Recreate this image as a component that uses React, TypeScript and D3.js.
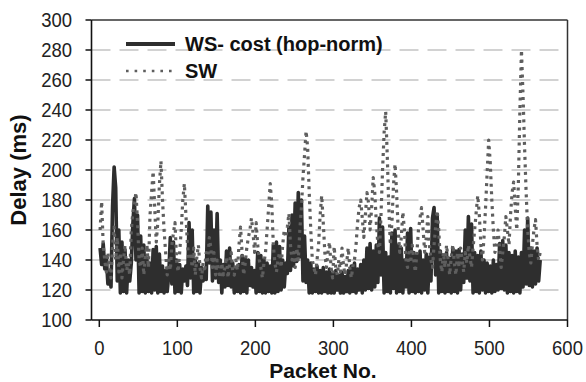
import React from 'react';
import * as d3 from 'd3';

// packets are sampled every 2nd packet: 1, 3, 5, ... 565
const firstPacket = 1;
const packetStep = 2;

const wsCost = [
  148, 137, 151, 134, 142, 124, 133, 122, 176, 202, 188, 126, 160, 118, 152, 119, 146, 118, 140, 126,
  138, 164, 181, 140, 170, 118, 156, 119, 150, 118, 141, 119, 138, 118, 147, 120, 149, 118, 144, 119,
  136, 118, 133, 119, 130, 155, 124, 152, 118, 140, 119, 137, 118, 134, 126, 136, 123, 165, 128, 160,
  118, 140, 119, 138, 118, 135, 126, 133, 127, 176, 138, 172, 126, 160, 128, 171, 125, 140, 118, 137,
  122, 146, 123, 148, 122, 138, 118, 135, 119, 137, 118, 143, 119, 141, 118, 140, 123, 135, 122, 133,
  118, 145, 119, 143, 118, 140, 118, 138, 119, 136, 118, 150, 118, 152, 119, 149, 120, 140, 122, 138,
  131, 162, 133, 170, 136, 178, 139, 185, 142, 180, 126, 156, 125, 140, 118, 138, 118, 134, 119, 136,
  118, 133, 118, 135, 119, 132, 118, 134, 118, 131, 118, 133, 120, 130, 118, 132, 118, 129, 119, 133,
  118, 136, 119, 138, 118, 134, 120, 137, 118, 140, 120, 148, 121, 151, 120, 146, 122, 150, 125, 168,
  130, 162, 118, 145, 119, 142, 118, 158, 121, 160, 118, 150, 119, 148, 118, 140, 122, 158, 118, 161,
  119, 145, 118, 143, 119, 146, 118, 140, 120, 144, 118, 142, 126, 168, 175, 130, 170, 118, 146, 119,
  143, 118, 145, 119, 141, 118, 148, 119, 146, 118, 147, 120, 144, 125, 160, 128, 169, 126, 164, 118,
  145, 119, 143, 118, 146, 120, 140, 118, 138, 119, 136, 118, 140, 119, 137, 120, 151, 121, 153, 120,
  150, 118, 145, 119, 143, 118, 146, 119, 142, 118, 145, 122, 160, 124, 168, 123, 148, 122, 146, 124,
  148, 126, 140,
];

const sw = [
  160, 179, 150, 140, 132, 145, 135, 128, 150, 162, 140, 155, 132, 145, 128, 140, 150, 133, 138, 130,
  160, 172, 178, 185, 165, 140, 135, 148, 130, 142, 150, 135, 170, 185, 199, 175, 152, 165, 190, 206,
  180, 160, 145, 130, 140, 133, 150, 158, 165, 140, 132, 145, 160, 180, 191, 170, 150, 140, 145, 135,
  148, 130, 142, 150, 135, 128, 138, 132, 145, 140, 155, 148, 135, 145, 130, 140, 132, 128, 138, 130,
  135, 142, 128, 138, 145, 132, 130, 140, 133, 150, 162, 145, 130, 138, 148, 155, 160, 168, 158, 145,
  165, 150, 140, 135, 128, 138, 145, 160, 175, 191, 178, 150, 138, 132, 140, 145, 135, 150, 160, 155,
  162, 171, 150, 140, 145, 135, 148, 140, 160, 175, 195, 210, 226, 215, 185, 160, 140, 135, 130, 140,
  150, 170, 183, 165, 145, 135, 145, 152, 135, 128, 149, 135, 130, 140, 132, 148, 136, 130, 138, 148,
  135, 128, 136, 140, 150, 165, 175, 180, 168, 155, 170, 185, 178, 160, 175, 195, 185, 165, 150, 145,
  170, 200, 225, 239, 210, 175, 150, 165, 190, 204, 185, 160, 145, 155, 172, 160, 140, 135, 145, 138,
  150, 140, 132, 145, 160, 168, 175, 160, 145, 155, 169, 150, 140, 135, 150, 162, 173, 160, 140, 132,
  145, 135, 150, 140, 130, 142, 150, 138, 130, 145, 135, 148, 140, 132, 145, 138, 150, 142, 135, 148,
  160, 172, 183, 170, 150, 140, 155, 175, 198, 220, 205, 180, 160, 145, 150, 160, 148, 135, 145, 155,
  169, 160, 150, 170, 185, 192, 175, 160, 190, 240, 280, 250, 215, 185, 160, 145, 138, 150, 160, 167,
  150, 140, 145,
];

const xTicks = [0, 100, 200, 300, 400, 500, 600];
const yTicks = [100, 120, 140, 160, 180, 200, 220, 240, 260, 280, 300];
const seriesNames = ['WS- cost (hop-norm)', 'SW'];

const W = 586;
const H = 382;
const FONT = '"Liberation Sans", Arial, sans-serif';
const SW_COLOR = '#5e5e5e';
const WS_COLOR = '#2e2e2e';

export default function App() {
  const x = d3.scaleLinear().domain([-10, 600]).range([91.5, 567.5]);
  const y = d3.scaleLinear().domain([100, 300]).range([320, 20]);

  const line = d3
    .line<number>()
    .x((_, i) => x(firstPacket + i * packetStep))
    .y((d) => y(d));

  const [x0, x1] = x.range();
  const [yb, yt] = y.range();

  return (
    <svg
      width={W}
      height={H}
      style={{ position: 'absolute', left: 0, top: 0, background: '#fff' }}
      fontFamily={FONT}
    >
      {/* dashed grid */}
      {yTicks.slice(1, -1).map((t) => (
        <line
          key={'g' + t}
          x1={x0}
          x2={x1}
          y1={y(t)}
          y2={y(t)}
          stroke="#c4c4c4"
          strokeWidth={1.6}
          strokeDasharray="19 9"
        />
      ))}

      {/* series */}
      <path d={line(wsCost) || ''} fill="none" stroke={WS_COLOR} strokeWidth={3.6} strokeLinejoin="round" />
      <path
        d={line(sw) || ''}
        fill="none"
        stroke={SW_COLOR}
        strokeWidth={3.2}
        strokeDasharray="3 4.5"
        strokeLinejoin="round"
      />

      {/* frame */}
      <line x1={x0} x2={x1} y1={yt} y2={yt} stroke="#333" strokeWidth={1.5} />
      <line x1={x1} x2={x1} y1={yt} y2={yb} stroke="#333" strokeWidth={1.5} />
      <line x1={x0} x2={x0} y1={yt} y2={yb} stroke="#111" strokeWidth={1.6} />
      <line x1={x0} x2={x1} y1={yb} y2={yb} stroke="#111" strokeWidth={1.6} />

      {/* y axis */}
      {yTicks.map((t) => (
        <g key={'y' + t}>
          <line x1={x0 - 6} x2={x0} y1={y(t)} y2={y(t)} stroke="#111" strokeWidth={1.5} />
          <text
            transform={`translate(72,${y(t) + 7}) scale(0.88,1)`}
            textAnchor="end"
            fontSize={21}
            fill="#222"
          >
            {t}
          </text>
        </g>
      ))}

      {/* x axis */}
      {xTicks.map((t) => (
        <g key={'x' + t}>
          <line x1={x(t)} x2={x(t)} y1={yb} y2={yb + 7} stroke="#111" strokeWidth={1.5} />
          <text
            transform={`translate(${x(t)},355) scale(0.88,1)`}
            textAnchor="middle"
            fontSize={21}
            fill="#222"
          >
            {t}
          </text>
        </g>
      ))}

      <text x={323} y={378} textAnchor="middle" fontSize={21} fontWeight="bold" fill="#111">
        Packet No.
      </text>
      <text
        transform="translate(26,170) rotate(-90)"
        textAnchor="middle"
        fontSize={22}
        fontWeight="bold"
        fill="#111"
      >
        Delay (ms)
      </text>

      {/* legend */}
      <line x1={126} x2={175} y1={44} y2={44} stroke={WS_COLOR} strokeWidth={4} />
      <text x={185} y={51} fontSize={20} fontWeight="bold" fill="#111">
        {seriesNames[0]}
      </text>
      <line
        x1={126}
        x2={174}
        y1={71}
        y2={71}
        stroke={SW_COLOR}
        strokeWidth={2.6}
        strokeDasharray="2.6 6"
      />
      <text x={185} y={78} fontSize={20} fontWeight="bold" fill="#111">
        {seriesNames[1]}
      </text>
    </svg>
  );
}
